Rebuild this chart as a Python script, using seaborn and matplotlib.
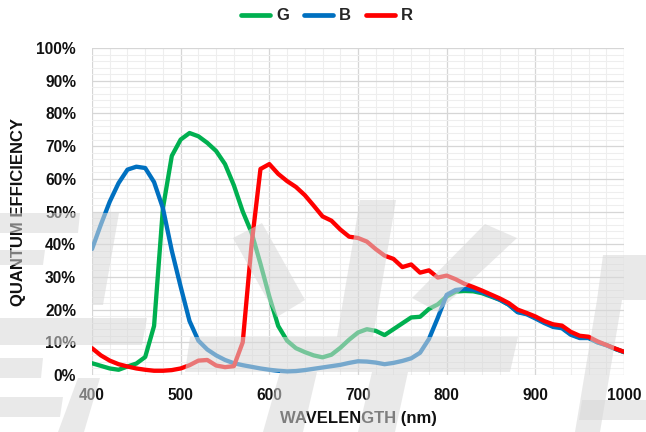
import numpy as np
import pandas as pd
import matplotlib
matplotlib.use("Agg")
import matplotlib.pyplot as plt
from matplotlib.patches import Polygon
from matplotlib.ticker import MultipleLocator, FixedLocator
import seaborn as sns

# ---------------- data ----------------
wavelength = list(range(400, 1001, 10))

qe_g = [3.6, 2.8, 2.0, 1.6, 2.6, 3.5, 5.5, 15, 51, 67,
        72, 74, 73, 71, 68.5, 64.5, 58, 50, 43.5, 34,
        24, 15, 10.5, 8.2, 7, 6, 5.4, 6.2, 8.3, 10.8,
        13, 14, 13.5, 12.2, 14, 15.8, 17.6, 17.8, 20.2, 21.6,
        24, 25.5, 25.7, 25.6, 25, 24, 23, 21.5, 19.3, 18.8,
        17.5, 16.2, 15, 14.5, 12.5, 11.5, 11.4, 10, 9.2, 8, 7]

qe_b = [38.5, 46, 53, 58.7, 62.8, 63.7, 63.3, 59, 51, 38,
        27, 16.5, 10.5, 7.8, 6, 4.6, 3.6, 3, 2.5, 2,
        1.6, 1.3, 1.1, 1.2, 1.5, 1.9, 2.3, 2.7, 3.1, 3.7,
        4.2, 4.1, 3.8, 3.3, 3.7, 4.3, 5.1, 6.8, 11, 17.5,
        24.5, 26, 26.3, 26.1, 25.3, 24.2, 23, 21.5, 19.2, 18.6,
        17.3, 15.9, 14.7, 14.3, 12.3, 11.3, 11.3, 10, 9.1, 8, 7]

qe_r = [8.2, 6, 4.4, 3.3, 2.6, 2, 1.6, 1.3, 1.3, 1.5,
        2, 3, 4.4, 4.6, 2.9, 2.4, 2.7, 10, 40, 63,
        64.5, 61.5, 59.3, 57.5, 55, 51.8, 48.5, 47.2, 44.5, 42.3,
        41.9, 40.8, 38.5, 36.5, 35.5, 33, 33.8, 31.3, 32, 29.8,
        30.4, 29.3, 27.9, 26.9, 25.8, 24.6, 23.4, 22, 20, 19,
        17.9, 16.5, 15.5, 15.1, 13.2, 12, 11.7, 10.3, 9.2, 8.1, 7.1]

series_names = ["G", "B", "R"]
series_colors = {"G": "#00B050", "B": "#0070C0", "R": "#FF0000"}
x_ticks = [400, 500, 600, 700, 800, 900, 1000]
y_ticks = [0, 10, 20, 30, 40, 50, 60, 70, 80, 90, 100]
y_tick_labels = [f"{v}%" for v in y_ticks]

df = pd.concat([
    pd.DataFrame({"wl": wavelength, "qe": qe_g, "ch": "G"}),
    pd.DataFrame({"wl": wavelength, "qe": qe_b, "ch": "B"}),
    pd.DataFrame({"wl": wavelength, "qe": qe_r, "ch": "R"}),
], ignore_index=True)

# ---------------- style ----------------
sns.set_style("white")
plt.rcParams["font.family"] = ["Liberation Sans", "DejaVu Sans"]
plt.rcParams["font.weight"] = "bold"

W, H = 646, 432
fig = plt.figure(figsize=(W / 100, H / 100), dpi=100)
ax = fig.add_axes([92 / W, 1 - 375 / H, (624 - 92) / W, (375 - 48) / H])

sns.lineplot(data=df, x="wl", y="qe", hue="ch", hue_order=series_names,
             palette=series_colors, linewidth=3.1, ax=ax, legend=True,
             solid_capstyle="round", solid_joinstyle="round")

ax.set_xlim(400, 1000)
ax.set_ylim(0, 100)
ax.xaxis.set_major_locator(FixedLocator(x_ticks))
ax.xaxis.set_minor_locator(MultipleLocator(20))
ax.yaxis.set_major_locator(FixedLocator(y_ticks))
ax.yaxis.set_minor_locator(MultipleLocator(2))
ax.set_yticklabels(y_tick_labels)
ax.set_xticklabels([str(v) for v in x_ticks])

ax.grid(which="minor", color="#eeeeee", linewidth=0.8, zorder=0)
ax.grid(which="major", color="#d6d6d6", linewidth=0.9, zorder=0)
ax.set_axisbelow(True)
for s in ax.spines.values():
    s.set_visible(False)

ax.tick_params(axis="both", which="both", length=0)
ax.tick_params(axis="x", pad=9.5, labelsize=11.2)
ax.tick_params(axis="y", pad=11.5, labelsize=11.2)
for lab in ax.get_xticklabels() + ax.get_yticklabels():
    lab.set_fontweight("bold")
    lab.set_color("#111111")

ax.set_xlabel("WAVELENGTH (nm)", fontsize=12, fontweight="bold", va="center", color="#111111")
ax.xaxis.set_label_coords(0.5, (375 - 419) / 327)
ax.set_ylabel("QUANTUM EFFICIENCY", fontsize=12, fontweight="bold", va="center", color="#111111")
ax.yaxis.set_label_coords((19 - 92) / 532, 0.5)

handles, labels = ax.get_legend_handles_labels()
ax.get_legend().remove()
leg = fig.legend(handles, labels, loc="center", bbox_to_anchor=(327 / W, 1 - 16 / H),
                 ncol=3, frameon=False, fontsize=12, handlelength=1.75,
                 handletextpad=0.35, columnspacing=0.9, borderpad=0)
for t in leg.get_texts():
    t.set_fontweight("bold")
for h in leg.get_lines():
    h.set_linewidth(3.4)

# ---------------- watermark (decorative, translucent) ----------------
shapes = [
    [(0, 213), (80, 213), (78, 233), (0, 233)],
    [(92, 213), (119, 213), (103, 305), (92, 305)],
    [(0, 250), (45, 250), (43, 265), (0, 265)],
    [(0, 318), (147, 318), (142, 345), (0, 345)],
    [(0, 358), (43, 358), (41, 378), (0, 378)],
    [(0, 397), (63, 397), (60, 417), (0, 417)],
    [(78, 378), (100, 378), (84, 432), (58, 432)],
    [(190, 337), (518, 337), (510, 372), (185, 372)],
    [(233, 238), (262, 223), (305, 300), (277, 317)],
    [(360, 200), (396, 200), (373, 337), (337, 337)],
    [(280, 372), (317, 372), (303, 432), (263, 432)],
    [(372, 372), (408, 372), (395, 432), (358, 432)],
    [(485, 224), (517, 238), (438, 312), (412, 298)],
    [(603, 255), (646, 255), (646, 300), (597, 300)],
    [(597, 300), (622, 300), (600, 432), (575, 432)],
    [(582, 400), (646, 400), (646, 420), (579, 420)],
]
for pts in shapes:
    poly = Polygon([(x / W, 1 - y / H) for x, y in pts], closed=True,
                   transform=fig.transFigure, facecolor="#d8d8d8",
                   edgecolor="none", alpha=0.55, zorder=10)
    fig.add_artist(poly)

fig.savefig("out.png", dpi=100)
